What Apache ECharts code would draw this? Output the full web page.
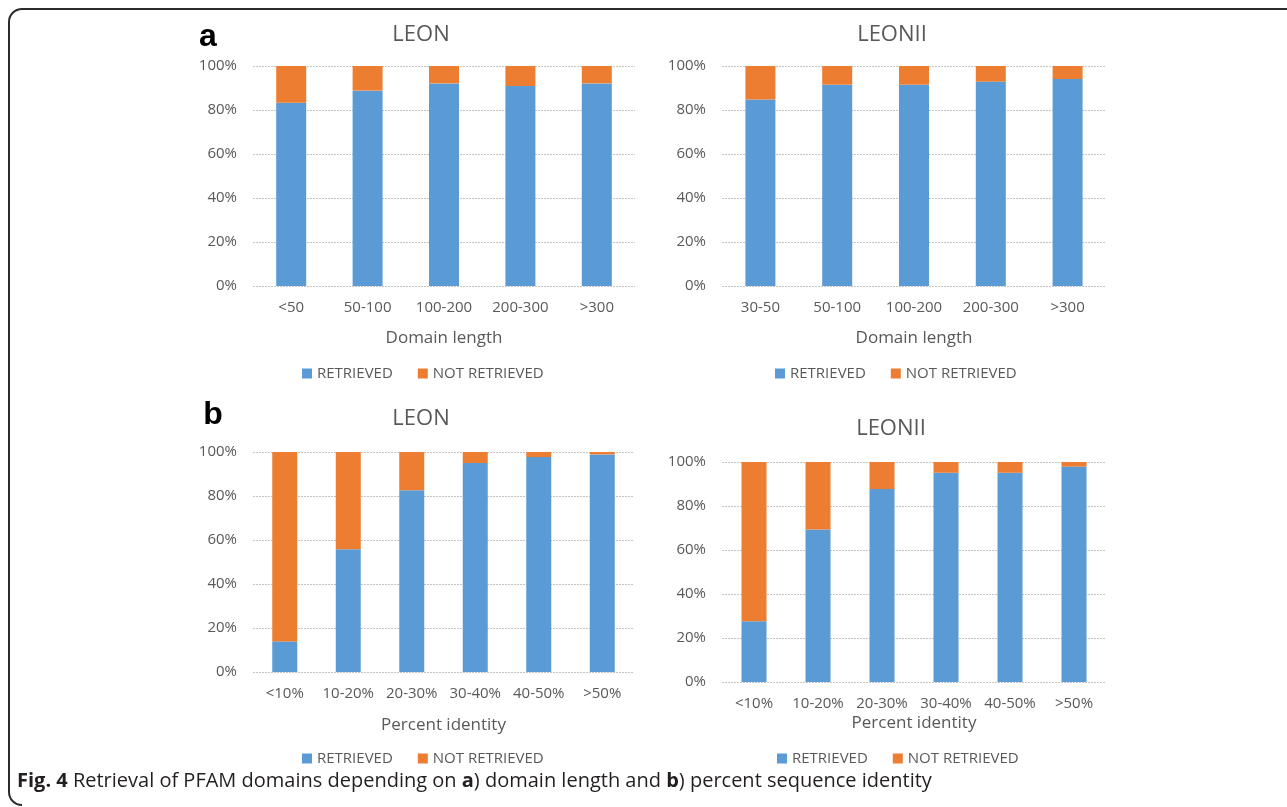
<!DOCTYPE html>
<html>
<head>
<meta charset="utf-8">
<script src="https://cdn.jsdelivr.net/npm/echarts@6/dist/echarts.min.js"></script>
<style>html,body{margin:0;padding:0;background:#fff}#c{width:1287px;height:807px}</style>
</head>
<body>
<div id="c"></div>
<script>
// ---- data ----
const lengthCatsLeon = ['<50', '50-100', '100-200', '200-300', '>300'];
const lengthCatsLeonII = ['30-50', '50-100', '100-200', '200-300', '>300'];
const identityCats = ['<10%', '10-20%', '20-30%', '30-40%', '40-50%', '>50%'];
const yTicks = [0, 20, 40, 60, 80, 100];

const leonLenRetrieved = [83.3, 88.8, 92.1, 90.9, 92.1];
const leonLenNotRetrieved = [16.7, 11.2, 7.9, 9.1, 7.9];
const leonIILenRetrieved = [84.8, 91.5, 91.5, 92.9, 94.1];
const leonIILenNotRetrieved = [15.2, 8.5, 8.5, 7.1, 5.9];
const leonIdRetrieved = [13.9, 55.8, 82.6, 95.0, 97.7, 98.9];
const leonIdNotRetrieved = [86.1, 44.2, 17.4, 5.0, 2.3, 1.1];
const leonIIIdRetrieved = [27.6, 69.3, 87.7, 95.1, 95.1, 97.9];
const leonIIIdNotRetrieved = [72.4, 30.7, 12.3, 4.9, 4.9, 2.1];

const seriesNames = ['RETRIEVED', 'NOT RETRIEVED'];
const panelTitles = ['LEON', 'LEONII', 'LEON', 'LEONII'];
const axisTitles = ['Domain length', 'Domain length', 'Percent identity', 'Percent identity'];

// ---- styling ----
const BLUE = '#5B9BD5', ORANGE = '#ED7D31', GRAY = '#595959';
const FONT = '"Open Sans", sans-serif';

const panels = [
  {grid: {left: 253, top: 66, width: 382, height: 220}, cats: lengthCatsLeon, r: leonLenRetrieved, n: leonLenNotRetrieved, bw: 30, nameGap: 44, legend: {left: 302, top: 366}, title: [421, 35]},
  {grid: {left: 722, top: 66, width: 384, height: 220}, cats: lengthCatsLeonII, r: leonIILenRetrieved, n: leonIILenNotRetrieved, bw: 30, nameGap: 44, legend: {left: 775, top: 366}, title: [892, 35]},
  {grid: {left: 253, top: 452, width: 381, height: 220}, cats: identityCats, r: leonIdRetrieved, n: leonIdNotRetrieved, bw: 25, nameGap: 45, legend: {left: 302, top: 751}, title: [421, 419]},
  {grid: {left: 722, top: 462, width: 384, height: 220}, cats: identityCats, r: leonIIIdRetrieved, n: leonIIIdNotRetrieved, bw: 25, nameGap: 33, legend: {left: 777, top: 751}, title: [891, 429]}
];

const BORDER = {stroke: '#2b2b2b', lineWidth: 2, fill: null};

const option = {
  animation: false,
  backgroundColor: '#fff',
  textStyle: {fontFamily: FONT},
  grid: panels.map(p => p.grid),
  xAxis: panels.map((p, i) => ({
    type: 'category', gridIndex: i, data: p.cats,
    axisLine: {show: false}, axisTick: {show: false},
    axisLabel: {color: GRAY, fontSize: 15, fontFamily: FONT, margin: 14, interval: 0},
    name: axisTitles[i], nameLocation: 'middle', nameGap: p.nameGap,
    nameTextStyle: {color: GRAY, fontSize: 17, fontFamily: FONT}
  })),
  yAxis: panels.map((p, i) => ({
    type: 'value', gridIndex: i, min: yTicks[0], max: yTicks[yTicks.length - 1], interval: 20,
    axisLine: {show: false}, axisTick: {show: false},
    axisLabel: {color: GRAY, fontSize: 15, fontFamily: FONT, margin: 16, formatter: '{value}%'},
    splitLine: {show: true, lineStyle: {color: '#c4c4c4', type: [2, 1], width: 1}}
  })),
  legend: panels.map(p => ({
    data: seriesNames, left: p.legend.left, top: p.legend.top, padding: 0,
    itemWidth: 10, itemHeight: 10, itemGap: 25, icon: 'rect',
    textStyle: {color: GRAY, fontSize: 15, fontFamily: FONT}
  })),
  series: panels.flatMap((p, i) => [
    {name: seriesNames[0], type: 'bar', stack: 's' + i, xAxisIndex: i, yAxisIndex: i, data: p.r, barWidth: p.bw, itemStyle: {color: BLUE}},
    {name: seriesNames[1], type: 'bar', stack: 's' + i, xAxisIndex: i, yAxisIndex: i, data: p.n, barWidth: p.bw, itemStyle: {color: ORANGE}}
  ]),
  graphic: [
    {type: 'line', shape: {x1: 22, y1: 9, x2: 1290, y2: 9}, style: BORDER},
    {type: 'line', shape: {x1: 9, y1: 22, x2: 9, y2: 792}, style: BORDER},
    {type: 'arc', shape: {cx: 22, cy: 22, r: 13, startAngle: Math.PI, endAngle: Math.PI * 1.5, clockwise: true}, style: BORDER},
    {type: 'arc', shape: {cx: 22, cy: 792, r: 13, startAngle: Math.PI * 0.5, endAngle: Math.PI, clockwise: true}, style: BORDER},
    {type: 'text', x: 208, y: 37, style: {text: 'a', font: 'bold 32px "Liberation Sans", Arial, sans-serif', fill: '#000', textAlign: 'center', textVerticalAlign: 'middle'}},
    {type: 'text', x: 213, y: 415, style: {text: 'b', font: 'bold 32px "Liberation Sans", Arial, sans-serif', fill: '#000', textAlign: 'center', textVerticalAlign: 'middle'}},
    ...panels.map((p, i) => ({type: 'text', x: p.title[0], y: p.title[1], style: {text: panelTitles[i], font: '22px ' + FONT, fill: GRAY, textAlign: 'center', textVerticalAlign: 'middle'}})),
    {type: 'text', x: 17, y: 781, style: {
      text: '{b|Fig. 4} Retrieval of PFAM domains depending on {b|a}) domain length and {b|b}) percent sequence identity',
      font: '20px ' + FONT, fill: '#231f20', textVerticalAlign: 'middle',
      rich: {b: {fontWeight: 'bold', fontSize: 20, fontFamily: FONT, fill: '#231f20'}}
    }}
  ]
};

const chart = echarts.init(document.getElementById('c'), null, {renderer: 'canvas'});
chart.setOption(option);
</script>
</body>
</html>
